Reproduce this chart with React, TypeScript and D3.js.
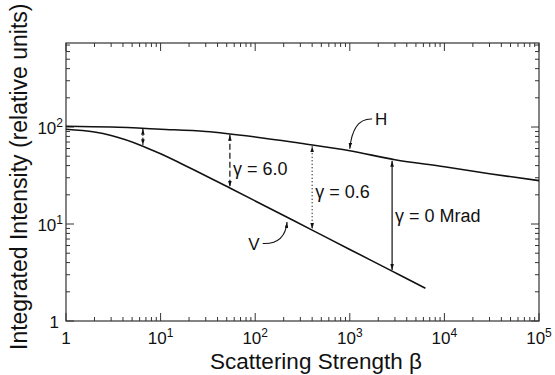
import React, { useEffect, useRef } from "react";
import * as d3 from "d3";

const width = 555;
const height = 375;

// H curve (upper) and V curve (lower)
const betaH = [1, 3, 10, 30, 100, 300, 1000, 3000, 1e4, 3e4, 1e5];
const intensityH = [102, 100, 95, 90, 79, 68, 57, 46, 39, 33, 28];
const betaV = [1, 2, 3, 6.5, 10, 20, 54, 100, 400, 1000, 2800, 6300];
const intensityV = [95, 88.7, 81.7, 63.5, 53, 38.3, 23.5, 17.3, 8.65, 5.47, 3.27, 2.18];

// vertical double arrows between the curves
const arrowBeta = [6.5, 54, 400, 2800];
const arrowTop = [98, 85, 65, 46];
const arrowBottom = [63.5, 23.5, 8.65, 3.27];
const arrowDash = ["4,2,1,2", "6,3", "1,2.5", ""];
const gammaLabels = ["", "γ = 6.0", "γ = 0.6", "γ = 0 Mrad"];
const gammaLabelI = [0, 32, 18.5, 10.5];

const xTickVals = [1, 10, 100, 1000, 1e4, 1e5];
const xTickExp = ["", "1", "2", "3", "4", "5"];
const yTickVals = [1, 10, 100];
const yTickExp = ["", "1", "2"];

const font = "'Liberation Sans', Arial, sans-serif";

export default function App() {
    const svgRef = useRef<SVGSVGElement>(null);

    useEffect(() => {
        const svg = d3.select(svgRef.current);
        svg.selectAll("*").remove();

        const left = 66, right = 539, top = 43, bottom = 321;
        const x = d3.scaleLog().domain([1, 1e5]).range([left, right]);
        const y = d3.scaleLog().domain([1, 735]).range([bottom, top]);

        svg.append("rect").attr("width", width).attr("height", height).attr("fill", "#fff");

        const defs = svg.append("defs");
        defs.append("marker")
            .attr("id", "ah")
            .attr("viewBox", "0 0 10 6")
            .attr("refX", 10)
            .attr("refY", 3)
            .attr("markerWidth", 6)
            .attr("markerHeight", 3.6)
            .attr("markerUnits", "userSpaceOnUse")
            .attr("orient", "auto-start-reverse")
            .append("path")
            .attr("d", "M0,0 L10,3 L0,6 z")
            .attr("fill", "#111");

        // frame
        svg.append("rect")
            .attr("x", left).attr("y", top)
            .attr("width", right - left).attr("height", bottom - top)
            .attr("fill", "none").attr("stroke", "#333").attr("stroke-width", 1.2);

        // minor + major ticks, all pointing inward
        const xMinor: number[] = [];
        for (let d = 0; d < 5; d++) for (let m = 2; m <= 9; m++) xMinor.push(m * 10 ** d);
        const yMinor: number[] = [];
        for (let d = 0; d < 3; d++) for (let m = 2; m <= 9; m++) if (m * 10 ** d < 735) yMinor.push(m * 10 ** d);

        const tk = svg.append("g").attr("stroke", "#333").attr("stroke-width", 1);
        const xt = [...xMinor.map((v) => [v, 4]), ...xTickVals.map((v) => [v, 8])];
        xt.forEach(([v, l]) => {
            tk.append("line").attr("x1", x(v)).attr("x2", x(v)).attr("y1", bottom).attr("y2", bottom - l);
            tk.append("line").attr("x1", x(v)).attr("x2", x(v)).attr("y1", top).attr("y2", top + l);
        });
        const yt = [...yMinor.map((v) => [v, 4]), ...yTickVals.map((v) => [v, 8])];
        yt.forEach(([v, l]) => {
            tk.append("line").attr("y1", y(v)).attr("y2", y(v)).attr("x1", left).attr("x2", left + l);
            tk.append("line").attr("y1", y(v)).attr("y2", y(v)).attr("x1", right).attr("x2", right - l);
        });

        // x tick labels
        xTickVals.forEach((v, i) => {
            const t = svg.append("text")
                .attr("x", x(v)).attr("y", 344)
                .attr("text-anchor", "middle")
                .attr("font-family", font).attr("font-size", 17).attr("fill", "#111");
            if (xTickExp[i] === "") t.text("1");
            else {
                t.append("tspan").text("10");
                t.append("tspan").attr("dy", -7).attr("font-size", 12).text(xTickExp[i]);
            }
        });

        // y tick labels
        yTickVals.forEach((v, i) => {
            const t = svg.append("text")
                .attr("x", 63).attr("y", y(v) + 7)
                .attr("text-anchor", "end")
                .attr("font-family", font).attr("font-size", 17).attr("fill", "#111");
            if (yTickExp[i] === "") t.attr("x", 59).text("1");
            else {
                t.append("tspan").text("10");
                t.append("tspan").attr("dy", -7).attr("font-size", 12).text(yTickExp[i]);
            }
        });

        // axis titles
        svg.append("text")
            .attr("x", 316).attr("y", 369)
            .attr("text-anchor", "middle")
            .attr("font-family", font).attr("font-size", 22.5).attr("fill", "#111")
            .text("Scattering Strength β");
        svg.append("text")
            .attr("transform", "translate(27,350) rotate(-90)")
            .attr("font-family", font).attr("font-size", 23).attr("fill", "#111")
            .text("Integrated Intensity (relative units)");

        // curves
        const line = d3.line<[number, number]>()
            .x((d) => x(d[0]))
            .y((d) => y(d[1]))
            .curve(d3.curveMonotoneX);
        svg.append("path")
            .attr("d", line(betaH.map((b, i) => [b, intensityH[i]]))!)
            .attr("fill", "none").attr("stroke", "#111").attr("stroke-width", 1.6);
        svg.append("path")
            .attr("d", line(betaV.map((b, i) => [b, intensityV[i]]))!)
            .attr("fill", "none").attr("stroke", "#111").attr("stroke-width", 1.6);

        // double arrows
        arrowBeta.forEach((b, i) => {
            const l = svg.append("line")
                .attr("x1", x(b)).attr("x2", x(b))
                .attr("y1", y(arrowTop[i]) + 1).attr("y2", y(arrowBottom[i]) - 1)
                .attr("stroke", "#111").attr("stroke-width", 1.2)
                .attr("marker-start", "url(#ah)").attr("marker-end", "url(#ah)");
            if (arrowDash[i]) l.attr("stroke-dasharray", arrowDash[i]);
            if (gammaLabels[i]) {
                svg.append("text")
                    .attr("x", x(b) + 3).attr("y", y(gammaLabelI[i]))
                    .attr("font-family", font).attr("font-size", 18).attr("fill", "#111")
                    .text(gammaLabels[i]);
            }
        });

        // curve labels with pointer arrows
        const hTip: [number, number] = [x(1000), y(57)];
        const hFrom: [number, number] = [x(1720), y(121)];
        svg.append("path")
            .attr("d", `M${hFrom[0]},${hFrom[1]} Q${hTip[0] + 3},${hFrom[1] - 1} ${hTip[0]},${hTip[1] - 2}`)
            .attr("fill", "none").attr("stroke", "#111").attr("stroke-width", 1.1)
            .attr("marker-end", "url(#ah)");
        svg.append("text")
            .attr("x", hFrom[0] + 3).attr("y", hFrom[1] + 6)
            .attr("font-family", font).attr("font-size", 17).attr("fill", "#111")
            .text("H");

        const vTip: [number, number] = [x(217), y(11)];
        const vFrom: [number, number] = [x(120), y(6.3)];
        svg.append("path")
            .attr("d", `M${vFrom[0]},${vFrom[1]} Q${vTip[0] - 2},${vFrom[1] + 1} ${vTip[0]},${vTip[1] + 2}`)
            .attr("fill", "none").attr("stroke", "#111").attr("stroke-width", 1.1)
            .attr("marker-end", "url(#ah)");
        svg.append("text")
            .attr("x", vFrom[0] - 3).attr("y", vFrom[1] + 7)
            .attr("text-anchor", "end")
            .attr("font-family", font).attr("font-size", 17).attr("fill", "#111")
            .text("V");
    }, []);

    return (
        <svg
            ref={svgRef}
            width={width}
            height={height}
            style={{ position: "absolute", left: 0, top: 0, display: "block" }}
        />
    );
}
